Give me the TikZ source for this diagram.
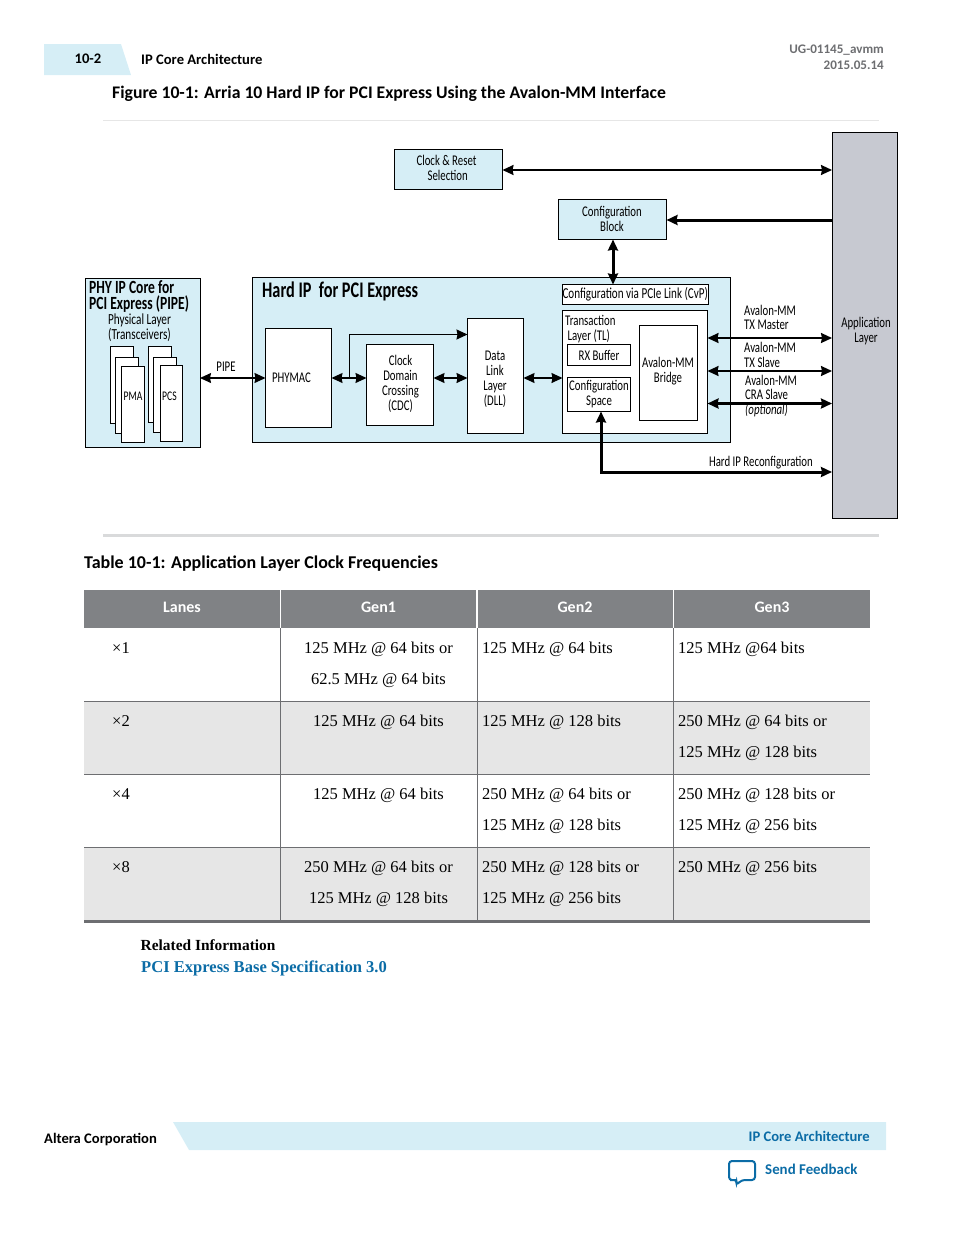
\documentclass[tikz,border=0pt]{standalone}
\usepackage{fontspec}
\usetikzlibrary{arrows.meta}
\setmainfont{Carlito}
\newfontfamily\diagfont[FakeStretch=0.73]{Carlito}
\newfontfamily\tabfont{Liberation Serif}
\definecolor{paleblue}{HTML}{D6EEF6}
\definecolor{appgray}{HTML}{C7C9D1}
\definecolor{headgray}{HTML}{808285}
\definecolor{rowgray}{HTML}{E6E6E6}
\definecolor{sepgray}{HTML}{D9DADB}
\definecolor{rulegray}{HTML}{6D6E71}
\definecolor{linkblue}{HTML}{0B6CA6}
\tikzset{
  tip/.tip={Stealth[length=11pt,width=10pt,inset=1pt]},
  boxnode/.style={draw,line width=0.8pt,fill=white,inner sep=0pt,outer sep=0pt,align=center,anchor=north west,font=\diagfont\fontsize{14.8}{15}\selectfont},
  bluebox/.style={boxnode,fill=paleblue},
  diagtext/.style={inner sep=0pt,align=center,font=\diagfont\fontsize{14.8}{15}\selectfont},
  sidetext/.style={inner sep=0pt,anchor=north west,align=left,font=\diagfont\fontsize{14.8}{14.5}\selectfont},
  twoway/.style={<->,>=tip,line width=1.8pt},
  heavyway/.style={<->,>=tip,line width=3pt},
  thinway/.style={<->,>=tip,line width=1.3pt},
  cell/.style={inner sep=0pt,anchor=north west,align=left,font=\tabfont\fontsize{16.5}{31}\selectfont},
  midcell/.style={cell,anchor=north,align=center},
  headcell/.style={inner sep=0pt,text=white,font=\bfseries\fontsize{16}{18}\selectfont},
  rowline/.style={rulegray,line width=1pt},
}
\begin{document}
\begin{tikzpicture}[x=1pt,y=-1pt]
  \useasboundingbox (0,0) rectangle (954,1235);
  % page head
  \fill [paleblue] (44,44) -- (121,44) -- (131,75) -- (44,75) -- cycle;
  \node [inner sep=0pt,font=\bfseries\fontsize{14.6}{17}\selectfont] (pagenum) at (88,59) {10-2};
  \node [inner sep=0pt,anchor=west,font=\bfseries\fontsize{14.6}{17}\selectfont] (chapter) at (141,59) {IP Core Architecture};
  \node [inner sep=0pt,anchor=east,text=rulegray,font=\bfseries\fontsize{13.1}{15}\selectfont] (docid) at (884,50.5) {UG-01145\_avmm};
  \node [inner sep=0pt,anchor=east,text=rulegray,font=\bfseries\fontsize{13.1}{15}\selectfont] (docdate) at (884,65.5) {2015.05.14};
  \node [inner sep=0pt,anchor=west,font=\bfseries\fontsize{17.7}{20}\selectfont] (figtitle) at (112,94) {Figure 10-1: Arria 10 Hard IP for PCI Express Using the Avalon-MM Interface};
  \draw [rowgray,line width=1pt] (103,120.5) -- (879,120.5);
  \draw [sepgray,line width=3pt] (103,535.5) -- (879,535.5);
  % outer blocks
  \node [boxnode,fill=appgray,minimum width=65pt,minimum height=386pt] (applayer) at (832.5,132.5) {};
  \node [diagtext] (applabel) at (866,331) {Application\\Layer};
  \node [bluebox,minimum width=108pt,minimum height=40pt] (clkreset) at (394.5,149.5) {};
  \node [diagtext] (clklabel) at (446.5,167.5) {Clock \& Reset\\\ Selection};
  \node [bluebox,minimum width=108pt,minimum height=40pt] (cfgblock) at (558.5,199.5) {};
  \node [diagtext] (cfglabel) at (612,218.5) {Configuration\\Block};
  \node [bluebox,minimum width=115pt,minimum height=169pt] (phyip) at (85,278.5) {};
  \node [bluebox,minimum width=478pt,minimum height=165pt] (hardip) at (252.5,277.5) {};
  % PHY block
  \node [inner sep=0pt,anchor=north west,align=left,font=\diagfont\bfseries\fontsize{18.6}{16}\selectfont] (phytitle) at (89,280) {PHY IP Core for\\PCI Express (PIPE)};
  \node [diagtext,font=\diagfont\fontsize{15.4}{15}\selectfont] (phylabel) at (139.5,328) {Physical Layer\\(Transceivers)};
  \node [boxnode,minimum width=23pt,minimum height=77pt] (pmaa) at (110.5,346) {};
  \node [boxnode,minimum width=23pt,minimum height=76pt] (pmab) at (115.5,357) {};
  \node [boxnode,minimum width=23pt,minimum height=76pt] (pmac) at (121.5,366.5) {};
  \node [diagtext,font=\diagfont\fontsize{13.2}{14}\selectfont] (pmalabel) at (133,396) {PMA};
  \node [boxnode,minimum width=23pt,minimum height=76pt] (pcsa) at (148.5,346) {};
  \node [boxnode,minimum width=23pt,minimum height=75pt] (pcsb) at (153.5,357) {};
  \node [boxnode,minimum width=22pt,minimum height=76pt] (pcsc) at (160.5,365.5) {};
  \node [diagtext,font=\diagfont\fontsize{13.2}{14}\selectfont] (pcslabel) at (169.5,396) {PCS};
  % hard IP block
  \node [inner sep=0pt,anchor=west,font=\diagfont\bfseries\fontsize{22.3}{22}\selectfont] (hardtitle) at (262,291) {Hard IP\ \ for PCI Express};
  \node [boxnode,minimum width=66pt,minimum height=99pt] (phymac) at (265.5,328.5) {PHYMAC\hspace*{14pt}};
  \node [boxnode,minimum width=67pt,minimum height=81pt] (cdc) at (366.5,344.5) {};
  \node [diagtext] (cdclabel) at (400.5,383.5) {Clock\\Domain\\Crossing\\(CDC)};
  \node [boxnode,minimum width=56pt,minimum height=115pt] (dll) at (467.5,318.5) {};
  \node [diagtext] (dlllabel) at (495,379.5) {Data\\Link\\Layer\\(DLL)};
  \node [boxnode,minimum width=145pt,minimum height=20pt,font=\diagfont\fontsize{15.2}{15}\selectfont] (cvp) at (562.5,284.5) {Configuration via PCIe Link (CvP)};
  \node [boxnode,minimum width=145pt,minimum height=123pt] (tl) at (562.5,310.5) {};
  \node [sidetext,font=\diagfont\fontsize{14.8}{15}\selectfont] (tllabel) at (565,315.5) {Transaction\\\ Layer (TL)};
  \node [boxnode,minimum width=63pt,minimum height=21pt] (rxbuf) at (567.5,344.5) {RX Buffer};
  \node [boxnode,minimum width=63pt,minimum height=34pt] (cfgspace) at (567.5,377.5) {Configuration\\Space};
  \node [boxnode,minimum width=58pt,minimum height=95pt] (bridge) at (639.5,325.5) {};
  \node [diagtext] (bridgelabel) at (668,371.5) {Avalon-MM\\Bridge};
  % free ends on the application layer
  \coordinate (txmaster) at (832,338);
  \coordinate (txslave) at (832,371);
  \coordinate (craslave) at (832,403.5);
  \coordinate (reconf) at (832,472);
  \coordinate (clkend) at (832,170);
  \coordinate (cfgend) at (832,220);
  % connectors
  \draw [twoway] (clkreset.east |- clkend) -- (clkend);
  \draw [<-,>=tip,line width=3pt] (cfgblock.east |- cfgend) -- (cfgend);
  \draw [heavyway] (613,284.5) -- (613,239.5);
  \draw [thinway] (phyip.east |- phymac.west) -- (phymac.west);
  \node [diagtext] (pipelabel) at (226,367) {PIPE};
  \draw [thinway] (phymac.east) -- (cdc.west |- phymac.east);
  \draw [->,>=tip,line width=1.3pt] (349.5,378) -- (349.5,334.5) -- (dll.west |- 0,334.5);
  \draw [thinway] (cdc.east |- phymac.east) -- (dll.west |- phymac.east);
  \draw [thinway] (dll.east |- phymac.east) -- (tl.west |- phymac.east);
  \draw [twoway] (tl.east |- txmaster) -- (txmaster);
  \draw [twoway] (tl.east |- txslave) -- (txslave);
  \draw [heavyway] (tl.east |- craslave) -- (craslave);
  \draw [heavyway] (601,411.5) -- (601,472) -- (reconf);
  % connector labels
  \node [sidetext] (txmlabel) at (744,305) {Avalon-MM\\TX Master};
  \node [sidetext,font=\diagfont\fontsize{14.8}{15}\selectfont] (txslabel) at (744,342) {Avalon-MM\\TX Slave};
  \node [sidetext] (cralabel) at (745,375) {Avalon-MM\\CRA Slave\\\textit{(optional)}};
  \node [inner sep=0pt,anchor=east,font=\diagfont\fontsize{14.8}{15}\selectfont] (reclabel) at (813,463) {Hard IP Reconfiguration};
  % table
  \node [inner sep=0pt,anchor=west,font=\bfseries\fontsize{18}{20}\selectfont] (tabtitle) at (84,564) {Table 10-1: Application Layer Clock Frequencies};
  \fill [headgray] (84,590) rectangle (870,628);
  \fill [rowgray] (84,701.5) rectangle (870,774.5);
  \fill [rowgray] (84,847.5) rectangle (870,921);
  \foreach \xcol in {280.5,477,673.5} {
    \draw [white,line width=1.2pt] (\xcol,590) -- (\xcol,628);
    \draw [rowline] (\xcol,628) -- (\xcol,921);
  }
  \foreach \yrow in {701.5,774.5,847.5}
    \draw [rowline] (84,\yrow) -- (870,\yrow);
  \draw [rulegray,line width=3pt] (84,921.5) -- (870,921.5);
  \node [headcell] (hlanes) at (182,607) {Lanes};
  \node [headcell] (hgena) at (378.5,607) {Gen1};
  \node [headcell] (hgenb) at (575,607) {Gen2};
  \node [headcell] (hgenc) at (772,607) {Gen3};
  \node [cell] (laneone) at (112,642) {×1};
  \node [midcell] (ga) at (378.5,642) {125 MHz @ 64 bits or\\62.5 MHz @ 64 bits};
  \node [cell] (gb) at (482,642) {125 MHz @ 64 bits};
  \node [cell] (gc) at (678,642) {125 MHz @64 bits};
  \node [cell] (lanetwo) at (112,715) {×2};
  \node [midcell] (gd) at (378.5,715) {125 MHz @ 64 bits};
  \node [cell] (ge) at (482,715) {125 MHz @ 128 bits};
  \node [cell] (gf) at (678,715) {250 MHz @ 64 bits or\\125 MHz @ 128 bits};
  \node [cell] (lanefour) at (112,788) {×4};
  \node [midcell] (gg) at (378.5,788) {125 MHz @ 64 bits};
  \node [cell] (gh) at (482,788) {250 MHz @ 64 bits or\\125 MHz @ 128 bits};
  \node [cell] (gi) at (678,788) {250 MHz @ 128 bits or\\125 MHz @ 256 bits};
  \node [cell] (laneeight) at (112,861) {×8};
  \node [midcell] (gj) at (378.5,861) {250 MHz @ 64 bits or\\125 MHz @ 128 bits};
  \node [cell] (gk) at (482,861) {250 MHz @ 128 bits or\\125 MHz @ 256 bits};
  \node [cell] (gl) at (678,861) {250 MHz @ 256 bits};
  % related information
  \node [inner sep=0pt,anchor=west,font=\tabfont\bfseries\fontsize{15.4}{18}\selectfont] (related) at (140.5,945) {Related Information};
  \node [inner sep=0pt,anchor=west,text=linkblue,font=\tabfont\bfseries\fontsize{16.55}{20}\selectfont] (speclink) at (141,968) {PCI Express Base Specification 3.0};
  % page foot
  \fill [paleblue] (173,1122) -- (886,1122) -- (886,1150) -- (189,1150) -- cycle;
  \node [inner sep=0pt,anchor=west,font=\bfseries\fontsize{14.6}{17}\selectfont] (company) at (44,1139) {Altera Corporation};
  \node [inner sep=0pt,anchor=east,text=linkblue,font=\bfseries\fontsize{14.6}{17}\selectfont] (footchap) at (870,1136) {IP Core Architecture};
  \node [inner sep=0pt,anchor=west,text=linkblue,font=\bfseries\fontsize{14.9}{17}\selectfont] (feedback) at (765,1169) {Send Feedback};
  \draw [linkblue,line width=2pt,rounded corners=3pt] (733,1180) -- (729,1180) -- (729,1161) -- (755,1161) -- (755,1180) -- (742,1180) -- (736,1185) -- (737,1180) -- cycle;
\end{tikzpicture}
\end{document}
